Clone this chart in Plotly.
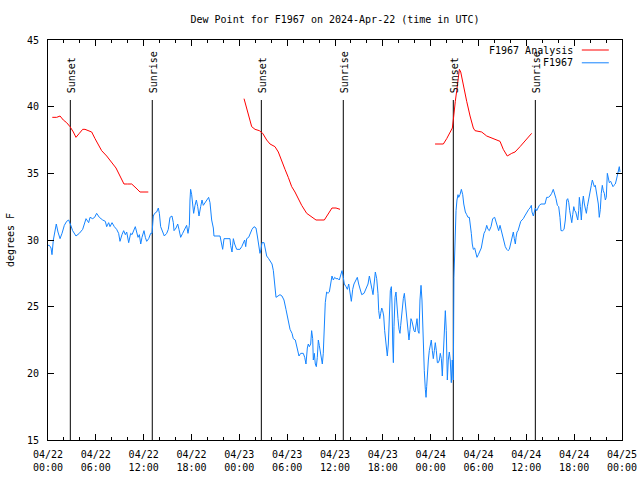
import pandas as pd
import plotly.graph_objects as go

BASE = pd.Timestamp("2024-04-22 00:00")

# Observations (F1967): hours since 2024-04-22 00:00 UTC, dew point (F)
obs_hours = [
    0.00, 0.17, 0.38, 0.50, 0.67, 0.88, 1.04, 1.25, 1.51, 1.76, 2.05, 2.34, 2.59, 2.80,
    3.09, 3.51, 3.93, 4.35, 4.77, 5.10, 5.27, 5.60, 5.85, 6.10, 6.44, 6.86, 7.19, 7.36,
    7.61, 7.78, 8.03, 8.32, 8.61, 8.86, 9.03, 9.28, 9.49, 9.70, 9.87, 10.12, 10.37, 10.54,
    10.70, 10.95, 11.12, 11.29, 11.46, 11.63, 11.79, 12.04, 12.21, 12.38, 12.63, 12.88,
    13.05, 13.21, 13.38, 13.63, 13.84, 13.97, 14.13, 14.38, 14.59, 14.89, 15.09, 15.30,
    15.55, 15.72, 15.81, 16.06, 16.27, 16.43, 16.64, 16.89, 17.14, 17.39, 17.56, 17.73,
    17.81, 17.89, 18.02, 18.15, 18.27, 18.44, 18.61, 18.78, 18.94, 19.15, 19.32, 19.48,
    19.73, 19.90, 20.15, 20.32, 20.53, 20.74, 20.82, 21.58, 21.74, 21.91, 22.08, 22.83,
    22.91, 23.08, 23.25, 23.41, 23.67, 24.08, 24.30, 24.50, 24.67, 24.80, 24.92, 25.17,
    25.34, 25.59, 25.84, 26.09, 26.26, 26.38, 26.59, 26.72, 26.84, 27.10, 27.22, 27.43,
    27.68, 27.94, 28.10, 28.27, 28.43, 28.60, 28.85, 29.10, 29.35, 29.60, 29.85, 30.11,
    30.36, 30.61, 30.77, 31.02, 31.19, 31.32, 31.48, 31.70, 32.02, 32.20, 32.36, 32.53,
    32.65, 32.78, 32.95, 33.07, 33.20, 33.28, 33.41, 33.53, 33.66, 33.78, 33.91, 34.03,
    34.16, 34.28, 34.41, 34.53, 34.66, 34.78, 34.95, 35.12, 35.29, 35.46, 35.62, 35.79,
    35.96, 36.13, 36.38, 36.54, 36.72, 36.88, 37.04, 37.17, 37.38, 37.55, 37.72, 37.88,
    38.05, 38.22, 38.38, 38.63, 38.80, 38.97, 39.14, 39.35, 39.64, 39.89, 40.14, 40.31,
    40.48, 40.64, 40.77, 40.89, 41.06, 41.23, 41.39, 41.48, 41.61, 41.73, 41.86, 41.98,
    42.11, 42.23, 42.40, 42.56, 42.69, 42.81, 42.94, 43.07, 43.15, 43.24, 43.32, 43.40,
    43.53, 43.65, 43.78, 43.90, 44.03, 44.15, 44.24, 44.37, 44.49, 44.57, 44.70, 44.82,
    44.95, 45.07, 45.16, 45.28, 45.41, 45.53, 45.66, 45.78, 45.91, 46.04, 46.16, 46.29,
    46.41, 46.54, 46.66, 46.79, 46.91, 47.00, 47.08, 47.20, 47.33, 47.42, 47.50, 47.58,
    47.71, 47.83, 47.96, 48.08, 48.21, 48.33, 48.46, 48.58, 48.71, 48.84, 48.96, 49.09,
    49.21, 49.34, 49.46, 49.59, 49.71, 49.84, 49.96, 50.09, 50.21, 50.34, 50.46, 50.59,
    50.71, 50.84, 50.92, 51.05, 51.18, 51.30, 51.43, 51.52, 51.68, 51.85, 52.02, 52.15,
    52.35, 52.52, 52.68, 52.85, 52.97, 53.10, 53.22, 53.35, 53.52, 53.65, 53.81, 53.98,
    54.19, 54.35, 54.53, 54.69, 54.86, 55.03, 55.19, 55.36, 55.57, 55.78, 56.03, 56.20,
    56.36, 56.53, 56.70, 56.86, 57.04, 57.20, 57.36, 57.54, 57.70, 57.87, 58.04, 58.20,
    58.37, 58.49, 58.62, 58.71, 58.83, 58.96, 59.12, 59.30, 59.46, 59.62, 59.80, 59.96,
    60.12, 60.30, 60.46, 60.63, 60.71, 60.88, 61.00, 61.13, 61.30, 61.46, 61.63, 61.84,
    62.34, 62.55, 62.76, 62.97, 63.18, 63.38, 63.56, 63.72, 63.89, 64.06, 64.22, 64.35,
    64.56, 64.73, 64.89, 65.07, 65.19, 65.32, 65.44, 65.57, 65.70, 65.82, 65.95, 66.07,
    66.20, 66.32, 66.45, 66.57, 66.65, 66.78, 66.90, 67.03, 67.15, 67.28, 67.40, 67.53,
    67.65, 67.78, 67.90, 68.03, 68.15, 68.28, 68.40, 68.53, 68.65, 68.78, 68.90, 69.03,
    69.15, 69.28, 69.40, 69.53, 69.65, 69.78, 69.91, 70.03, 70.16, 70.28, 70.41, 70.58,
    70.74, 70.87, 70.99, 71.16, 71.29, 71.41, 71.54, 71.66, 71.75,
]
obs_values = [
    29.6, 29.6, 29.4, 28.9, 30.0, 30.7, 31.2, 30.6, 30.1, 30.5, 31.1, 31.4, 31.5, 31.2,
    30.7, 30.3, 30.5, 30.8, 31.6, 31.3, 31.7, 31.6, 31.7, 32.0, 31.7, 31.5, 31.4, 31.0,
    31.3, 31.0, 31.3, 31.0, 30.8, 30.5, 29.9, 30.4, 30.7, 30.4, 30.6, 29.8, 30.5, 30.4,
    30.6, 31.0, 30.6, 30.2, 30.4, 29.7, 30.2, 30.7, 30.2, 29.9, 30.1, 30.5,
    30.5, 31.8, 32.0, 32.1, 32.4, 32.0, 31.0, 30.6, 30.3, 30.5, 30.8, 31.7,
    31.8, 31.3, 30.7, 30.9, 31.2, 30.8, 30.2, 30.5, 30.8, 31.1, 30.5, 31.1,
    33.0, 33.8, 33.4, 32.5, 32.0, 32.6, 33.0, 32.5, 31.8, 32.5, 33.0, 32.6,
    32.8, 33.0, 33.2, 32.8, 31.5, 30.9, 30.3, 30.3, 29.8, 29.3, 30.1, 30.1,
    29.6, 29.1, 30.1, 29.7, 29.3, 29.3, 29.5, 29.8, 30.0, 29.5, 30.1, 30.2,
    30.5, 30.8, 31.0, 30.9, 30.3, 29.7, 29.0, 29.3, 29.8, 29.8, 29.4, 28.8,
    28.6, 28.4, 28.2, 27.7, 26.5, 25.7, 25.8, 25.9, 25.8, 25.5, 24.8, 24.0,
    23.3, 23.0, 22.6, 22.5, 22.1, 21.7, 21.3, 21.5, 21.5, 21.2, 20.7, 21.9,
    22.2, 22.0, 22.2, 23.2, 22.6, 21.0, 21.5, 20.7, 20.5, 21.2, 22.5, 22.1,
    21.7, 21.1, 20.7, 21.5, 23.7, 25.3, 26.1, 26.0, 26.1, 26.8, 27.3, 27.0,
    27.2, 27.1, 27.1, 27.0, 27.4, 27.7, 27.2, 26.7, 26.5, 26.3, 26.7, 26.0,
    25.4, 26.3, 26.7, 27.0, 27.2, 26.7, 26.3, 25.9, 26.0, 26.3, 26.7, 27.3,
    26.9, 26.3, 25.9, 26.9, 27.6, 27.1, 26.0, 24.7, 24.1, 24.5, 24.9, 24.7,
    24.3, 23.2, 22.0, 21.3, 22.2, 25.0, 26.2, 26.5, 25.2, 22.2, 20.8, 23.5,
    25.7, 26.1, 24.7, 24.1, 23.3, 23.0, 23.6, 24.7, 25.3, 25.6, 26.0, 25.3,
    24.7, 24.2, 23.4, 22.5, 23.3, 24.1, 23.9, 23.5, 23.2, 23.1, 23.7, 24.1,
    23.2, 23.0, 25.5, 26.6, 25.5, 23.2, 21.0, 20.2, 18.8, 18.2, 19.0, 20.2,
    21.0, 21.7, 22.2, 22.5, 21.7, 21.1, 21.7, 22.3, 21.7, 20.8, 20.8, 21.0,
    21.5, 21.1, 19.8, 21.9, 23.2, 24.7, 23.2, 19.5, 21.0, 21.6, 21.0, 19.3,
    21.0, 19.5, 27.2, 30.5, 32.2, 33.0, 33.4, 33.2, 33.4, 33.8, 33.4, 32.7,
    32.1, 31.9, 31.7, 31.7, 31.2, 30.5, 29.7, 29.3, 29.4, 29.1, 28.7, 28.9,
    29.2, 29.4, 30.0, 30.5, 30.7, 31.1, 30.8, 30.7, 31.0, 31.6, 31.7, 31.4,
    31.0, 30.7, 31.1, 30.7, 30.3, 29.9, 29.5, 29.3, 29.2, 29.3, 29.7, 30.2,
    30.6, 30.1, 29.7, 30.2, 30.6, 30.7, 31.1, 31.4, 31.5, 31.6, 31.8, 32.0,
    32.2, 32.3, 32.4, 32.6, 32.1, 31.8, 32.1, 32.4, 32.2, 32.4, 32.6, 32.7,
    32.7, 33.2, 33.2, 33.3, 33.5, 33.8, 33.5, 33.1, 32.6, 32.5, 31.7, 30.7,
    30.7, 30.8, 31.5, 33.0, 33.1, 32.8, 32.2, 31.7, 31.3, 31.9, 32.5, 32.2,
    32.1, 31.8, 31.5, 32.2, 33.2, 32.5, 31.5, 32.7, 33.3, 32.7, 32.4, 32.0,
    32.5, 33.0, 33.5, 33.7, 34.1, 34.5, 34.2, 34.0, 34.1, 33.7, 33.2, 32.7,
    31.7, 32.3, 33.5, 34.1, 33.7, 33.5, 33.0, 33.2, 35.0, 34.6, 34.3, 34.4,
    34.2, 34.0, 34.1, 34.2, 34.5, 34.8, 35.0, 35.5, 35.1,
]

# Analysis (F1967 Analysis): three separate segments
ana_hours = [
    [0.54, 1.09, 1.51, 1.92, 2.34, 2.76, 3.18, 3.51, 3.93, 4.35, 4.64, 5.06, 5.48, 5.90,
     6.31, 6.73, 7.36, 7.78, 8.11, 8.53, 9.03, 9.53, 9.95, 10.50, 11.04, 11.54, 12.58],
    [24.59, 24.92, 25.25, 25.55, 25.97, 26.51, 26.93, 27.43, 27.85, 28.47, 28.89, 29.32,
     29.73, 30.14, 30.57, 30.98, 31.40, 31.82, 32.45, 33.08, 33.62, 34.66, 35.16, 35.62,
     36.13, 36.63],
    [48.55, 49.59, 50.01, 50.43, 50.72, 50.84, 50.93, 51.09, 51.27, 51.43, 51.60, 51.77,
     52.10, 52.52, 52.94, 53.35, 53.56, 54.40, 55.03, 55.86, 56.70, 57.11, 57.61, 58.17,
     58.58, 59.21, 59.96, 60.67],
]
ana_values = [
    [39.2, 39.2, 39.3, 39.0, 38.8, 38.5, 38.1, 37.7, 38.0, 38.3, 38.3, 38.2, 38.1, 37.6,
     37.1, 36.7, 36.3, 36.0, 35.7, 35.4, 34.8, 34.2, 34.2, 34.2, 33.9, 33.6, 33.6],
    [40.6, 39.8, 39.0, 38.5, 38.3, 38.2, 38.0, 37.5, 37.2, 37.0, 36.6, 36.0,
     35.3, 34.7, 34.0, 33.6, 33.1, 32.6, 32.0, 31.7, 31.5, 31.5, 32.0, 32.4,
     32.4, 32.3],
    [37.2, 37.2, 37.6, 38.1, 38.4, 39.0, 39.7, 40.4, 41.2, 42.2, 42.8, 42.6,
     41.5, 40.4, 39.3, 38.4, 38.2, 38.1, 37.8, 37.6, 37.4, 36.8, 36.3, 36.5,
     36.6, 37.0, 37.5, 38.0],
]

# Sunset / sunrise markers (hours since start)
event_labels = ["Sunset", "Sunrise", "Sunset", "Sunrise", "Sunset", "Sunrise"]
event_hours = [2.80, 13.08, 26.76, 37.04, 50.84, 61.13]

tick_hours = [0, 6, 12, 18, 24, 30, 36, 42, 48, 54, 60, 66, 72]
tick_labels = ["04/22<br>00:00", "04/22<br>06:00", "04/22<br>12:00", "04/22<br>18:00",
               "04/23<br>00:00", "04/23<br>06:00", "04/23<br>12:00", "04/23<br>18:00",
               "04/24<br>00:00", "04/24<br>06:00", "04/24<br>12:00", "04/24<br>18:00",
               "04/25<br>00:00"]


def to_time(hours):
    return [BASE + pd.Timedelta(hours=h) for h in hours]


RED = "#ff0000"
BLUE = "#1484ff"
FONT = "DejaVu Sans Mono"

fig = go.Figure()
ana_x, ana_y = [], []
for hs, vs in zip(ana_hours, ana_values):
    ana_x += to_time(hs) + [None]
    ana_y += vs + [None]
fig.add_trace(go.Scatter(x=ana_x, y=ana_y, mode="lines", name="F1967 Analysis",
                         line=dict(color=RED, width=1), connectgaps=False))
fig.add_trace(go.Scatter(x=to_time(obs_hours), y=obs_values, mode="lines", name="F1967",
                         line=dict(color=BLUE, width=1)))

for lab, h in zip(event_labels, event_hours):
    t = BASE + pd.Timedelta(hours=h)
    fig.add_shape(type="line", xref="x", yref="y", x0=t, x1=t, y0=15, y1=40.5,
                  line=dict(color="black", width=1), layer="below")
    fig.add_annotation(x=t, y=40.5, xref="x", yref="y", text=lab, showarrow=False,
                       textangle=-90, xanchor="center", yanchor="bottom", yshift=5,
                       xshift=1, font=dict(family=FONT, size=10, color="black"))

# gnuplot-style legend (text then line sample), top right inside the plot
leg_rows = [("F1967 Analysis", RED, 0.975), ("F1967", BLUE, 0.943)]
for text, col, yy in leg_rows:
    fig.add_annotation(x=0.918, y=yy, xref="paper", yref="paper", text=text,
                       showarrow=False, xanchor="right", yanchor="middle",
                       font=dict(family=FONT, size=10, color="black"))
    fig.add_shape(type="line", xref="paper", yref="paper", x0=0.930, x1=0.977,
                  y0=yy, y1=yy, line=dict(color=col, width=1))

fig.add_annotation(x=-0.066, y=0.5, xref="paper", yref="paper", text="degrees F",
                   showarrow=False, textangle=-90, xanchor="center", yanchor="middle",
                   font=dict(family=FONT, size=10, color="black"))

fig.update_layout(
    width=640, height=480,
    margin=dict(l=48, r=18, t=40, b=40, autoexpand=False),
    paper_bgcolor="white", plot_bgcolor="white",
    showlegend=False,
    font=dict(family=FONT, size=10, color="black"),
    title=dict(text="Dew Point for F1967 on 2024-Apr-22 (time in UTC)",
               x=0.5, xref="paper", xanchor="center",
               y=1 - 19 / 480, yref="container", yanchor="middle",
               font=dict(family=FONT, size=10, color="black")),
)
fig.update_xaxes(
    range=[BASE, BASE + pd.Timedelta(hours=72)],
    tickvals=to_time(tick_hours), ticktext=tick_labels,
    ticks="inside", ticklen=6, tickcolor="black", tickwidth=1,
    showline=True, linecolor="black", linewidth=1, mirror="ticks",
    showgrid=False, zeroline=False, automargin=False, ticklabelstandoff=5,
    minor=dict(dtick=2 * 3600000, tick0=BASE, ticks="inside", ticklen=3,
               tickcolor="black", showgrid=False),
    tickfont=dict(family=FONT, size=10, color="black"),
)
fig.update_yaxes(
    range=[15, 45], tickvals=[15, 20, 25, 30, 35, 40, 45],
    ticks="inside", ticklen=6, tickcolor="black", tickwidth=1,
    showline=True, linecolor="black", linewidth=1, mirror="ticks",
    showgrid=False, zeroline=False, ticklabelstandoff=6, automargin=False,
    tickfont=dict(family=FONT, size=10, color="black"),
)

fig.write_html("out.html",
               config={"displayModeBar": False},
               post_script="document.body.style.margin='0';"
                           "document.body.style.overflow='hidden';")
